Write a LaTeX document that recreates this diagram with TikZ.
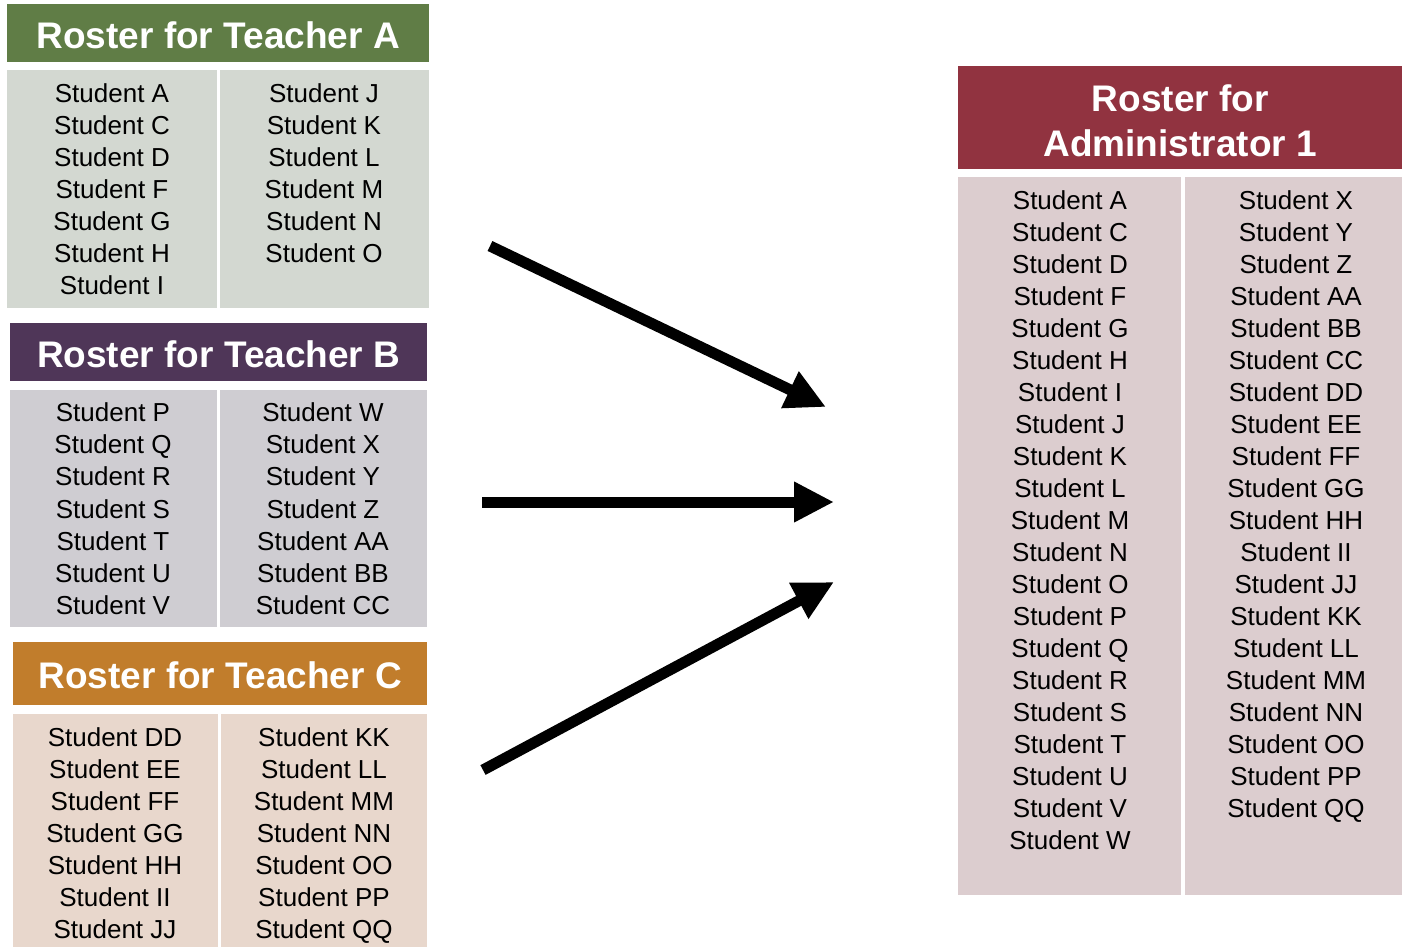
\documentclass[tikz,border=0pt]{standalone}
\usepackage{fontspec}
\setmainfont{Liberation Sans}
\usetikzlibrary{arrows.meta}

\definecolor{headA}{HTML}{607D46}
\definecolor{bodyA}{HTML}{D3D8D1}
\definecolor{headB}{HTML}{4F3658}
\definecolor{bodyB}{HTML}{CFCDD2}
\definecolor{headC}{HTML}{C17D2C}
\definecolor{bodyC}{HTML}{E8D7CC}
\definecolor{headAdm}{HTML}{913340}
\definecolor{bodyAdm}{HTML}{DCCDCF}

\tikzset{
  rosterbox/.style={anchor=north west, inner sep=0pt},
  rostertitle/.style={inner sep=0pt, text=white, align=center,
    font=\fontsize{37}{45}\selectfont\bfseries},
  pupil/.style={inner sep=0pt, text height=19pt, text depth=0pt,
    font=\fontsize{26}{32}\selectfont},
  bigarrow/.style={line width=11pt, -{Triangle[length=40pt,width=38pt]}}
}

\begin{document}
\begin{tikzpicture}[x=1pt,y=-1pt]
  \useasboundingbox (0,0) rectangle (1402,946);

  % roster A
  \node[rosterbox, fill=headA, minimum width=422pt, minimum height=58pt] (rosterA) at (7,4) {};
  \node[rostertitle] (titleA) at ([yshift=-2pt]rosterA.center) {Roster for Teacher A};
  \node[rosterbox, fill=bodyA, minimum width=210pt, minimum height=238pt] (cellA1) at (7,70) {};
  \node[rosterbox, fill=bodyA, minimum width=209pt, minimum height=238pt] (cellA2) at (220,70) {};
  \foreach \s [count=\i] in {A,C,D,F,G,H,I}
    \node[pupil] (a\i) at (112,93+32*\i-32) {Student \s};
  \foreach \s [count=\i] in {J,K,L,M,N,O}
    \node[pupil] (aa\i) at (324,93+32*\i-32) {Student \s};

  % roster B
  \node[rosterbox, fill=headB, minimum width=417pt, minimum height=58pt] (rosterB) at (10,323) {};
  \node[rostertitle] (titleB) at ([yshift=-2pt]rosterB.center) {Roster for Teacher B};
  \node[rosterbox, fill=bodyB, minimum width=207pt, minimum height=237pt] (cellB1) at (10,390) {};
  \node[rosterbox, fill=bodyB, minimum width=207pt, minimum height=237pt] (cellB2) at (220,390) {};
  \foreach \s [count=\i] in {P,Q,R,S,T,U,V}
    \node[pupil] (b\i) at (113,412+32.2*\i-32.2) {Student \s};
  \foreach \s [count=\i] in {W,X,Y,Z,AA,BB,CC}
    \node[pupil] (bb\i) at (323,412+32.2*\i-32.2) {Student \s};

  % roster C
  \node[rosterbox, fill=headC, minimum width=414pt, minimum height=63pt] (rosterC) at (13,642) {};
  \node[rostertitle] (titleC) at ([yshift=-2pt]rosterC.center) {Roster for Teacher C};
  \node[rosterbox, fill=bodyC, minimum width=205pt, minimum height=240pt] (cellC1) at (13,714) {};
  \node[rosterbox, fill=bodyC, minimum width=206pt, minimum height=240pt] (cellC2) at (221,714) {};
  \foreach \s [count=\i] in {DD,EE,FF,GG,HH,II,JJ}
    \node[pupil] (c\i) at (115,737+32*\i-32) {Student \s};
  \foreach \s [count=\i] in {KK,LL,MM,NN,OO,PP,QQ}
    \node[pupil] (cc\i) at (324,737+32*\i-32) {Student \s};

  % roster for the administrator
  \node[rosterbox, fill=headAdm, minimum width=444pt, minimum height=103pt] (rosterAdm) at (958,66) {};
  \node[rostertitle] (titleAdm) at ([yshift=-3pt]rosterAdm.center) {Roster for\\Administrator 1};
  \node[rosterbox, fill=bodyAdm, minimum width=223pt, minimum height=718pt] (cellD1) at (958,177) {};
  \node[rosterbox, fill=bodyAdm, minimum width=217pt, minimum height=718pt] (cellD2) at (1185,177) {};
  \foreach \s [count=\i] in {A,C,D,F,G,H,I,J,K,L,M,N,O,P,Q,R,S,T,U,V,W}
    \node[pupil] (d\i) at (1070,200+32*\i-32) {Student \s};
  \foreach \s [count=\i] in {X,Y,Z,AA,BB,CC,DD,EE,FF,GG,HH,II,JJ,KK,LL,MM,NN,OO,PP,QQ}
    \node[pupil] (dd\i) at (1296,200+32*\i-32) {Student \s};

  % arrows
  \coordinate (fromA) at (490,246);
  \coordinate (toA) at (826,407);
  \coordinate (fromB) at (482,502);
  \coordinate (toB) at (834,502);
  \coordinate (fromC) at (483,770);
  \coordinate (toC) at (834,582);
  \draw[bigarrow] (fromA) -- (toA);
  \draw[bigarrow] (fromB) -- (toB);
  \draw[bigarrow] (fromC) -- (toC);
\end{tikzpicture}
\end{document}
